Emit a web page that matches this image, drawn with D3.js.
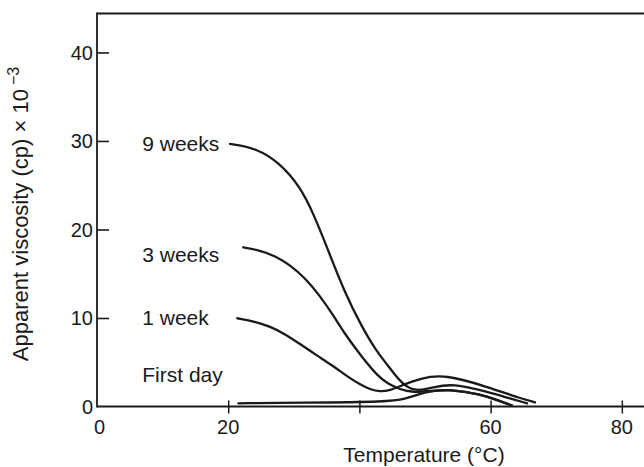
<!DOCTYPE html>
<html>
<head>
<meta charset="utf-8">
<script src="https://cdn.jsdelivr.net/npm/d3@7"></script>
<style>
  html, body { margin: 0; padding: 0; background: #fff; }
  svg { display: block; }
  text { font-family: "Liberation Sans", Arial, Helvetica, sans-serif; fill: #1a1a1a; }
</style>
</head>
<body>
<svg id="chart" width="644" height="467"></svg>
<script>
// ---- Data ----
const xTickValues = [20, 40, 60, 80];
const xTickLabels = ["20", "", "60", "80"];
const yTickValues = [10, 20, 30, 40];
const yTickLabels = ["10", "20", "30", "40"];

const seriesNames = ["9 weeks", "3 weeks", "1 week", "First day"];

const nineWeeksT = [20.27, 24.34, 27.90, 30.95, 32.97, 35.02, 37.80, 40.40, 42.38, 44.16, 45.43, 46.49, 47.71, 49.24, 51.07, 54.27, 59.45, 62.96, 65.55];
const nineWeeksV = [29.66, 29.18, 27.48, 24.84, 21.83, 18.06, 12.77, 8.98, 6.50, 4.80, 3.56, 2.66, 1.98, 1.81, 2.15, 2.62, 1.67, 0.90, 0.36];

const threeWeeksT = [22.30, 24.85, 27.13, 29.42, 31.71, 34.00, 35.98, 37.80, 39.59, 41.11, 42.68, 44.21, 46.19, 48.17, 50.76, 53.81, 58.38, 61.43, 63.26];
const threeWeeksV = [17.99, 17.63, 17.01, 15.99, 14.52, 12.49, 10.34, 8.19, 6.38, 4.92, 3.56, 2.60, 1.92, 1.58, 1.75, 1.94, 1.41, 0.62, 0.11];

const oneWeekT = [21.39, 24.09, 26.37, 28.66, 30.95, 33.54, 35.98, 38.26, 40.09, 41.62, 43.14, 44.66, 46.45, 49.24, 53.05, 59.45, 64.48, 66.77];
const oneWeekV = [9.97, 9.60, 9.04, 8.19, 7.06, 5.76, 4.58, 3.33, 2.49, 1.92, 1.67, 1.81, 2.37, 3.19, 3.64, 2.24, 0.93, 0.47];

const firstDayT = [21.54, 30.95, 44.66, 46.95, 48.93, 50.76, 53.81, 58.38, 61.43, 63.26];
const firstDayV = [0.36, 0.42, 0.53, 0.85, 1.36, 1.75, 1.94, 1.41, 0.62, 0.11];

// label anchor positions (data units)
const labelT = [6.9, 6.9, 6.9, 6.9];
const labelV = [29.66, 17.12, 10.0, 3.56];

// ---- Drawing ----
const svg = d3.select("#chart");
const ink = "#1a1a1a";

const x = d3.scaleLinear().domain([0, 83.38]).range([97, 644]);
const y = d3.scaleLinear().domain([0, 44.4]).range([406.5, 13.5]);

// frame: top line
svg.append("line")
  .attr("x1", x(0)).attr("x2", x(83.38))
  .attr("y1", y(44.4)).attr("y2", y(44.4))
  .attr("stroke", ink).attr("stroke-width", 2.2);

// y axis (ticks pointing inward)
const yAxis = d3.axisRight(y).tickValues(yTickValues).tickSize(12).tickFormat("");
const gy = svg.append("g").attr("transform", `translate(${x(0)},0)`).call(yAxis);
gy.select(".domain").remove();
gy.selectAll(".tick line").attr("stroke", ink).attr("stroke-width", 1.6);
svg.append("line")
  .attr("x1", x(0)).attr("x2", x(0))
  .attr("y1", y(44.4) - 1).attr("y2", y(0) + 1)
  .attr("stroke", ink).attr("stroke-width", 1.8);

// y tick labels
const yLab = svg.append("g");
yLab.selectAll("text").data(yTickValues.concat([0])).join("text")
  .attr("x", 93).attr("y", d => y(d)).attr("dy", "0.36em")
  .attr("text-anchor", "end").attr("font-size", 20)
  .text((d, i) => i < yTickLabels.length ? yTickLabels[i] : "0");

// x axis (ticks crossing the axis)
svg.append("line")
  .attr("x1", x(0)).attr("x2", x(83.38))
  .attr("y1", y(0)).attr("y2", y(0))
  .attr("stroke", ink).attr("stroke-width", 1.8);
const xAxis = d3.axisBottom(x).tickValues(xTickValues).tickSize(13).tickFormat("");
const gx = svg.append("g").attr("transform", `translate(0,${y(0) - 6})`).call(xAxis);
gx.select(".domain").remove();
gx.selectAll(".tick line").attr("stroke", ink).attr("stroke-width", 1.5);

const xLab = svg.append("g");
xLab.selectAll("text").data([0].concat(xTickValues)).join("text")
  .attr("x", d => x(d) + (d === 0 ? 2.5 : 0)).attr("y", 434)
  .attr("text-anchor", "middle").attr("font-size", 20)
  .text((d, i) => i === 0 ? "0" : xTickLabels[i - 1]);

// axis titles
svg.append("text")
  .attr("x", 424).attr("y", 462)
  .attr("text-anchor", "middle").attr("font-size", 21)
  .text("Temperature (°C)");

const yt = svg.append("text")
  .attr("transform", `translate(28,214) rotate(-90)`)
  .attr("text-anchor", "middle").attr("font-size", 22);
yt.append("tspan").text("Apparent viscosity (cp) × 10");
yt.append("tspan").attr("dx", 4).attr("dy", -9).attr("font-size", 16).text("−3");

// curves
const line = d3.line().x(d => x(d[0])).y(d => y(d[1])).curve(d3.curveBasis);
const series = [
  [nineWeeksT, nineWeeksV],
  [threeWeeksT, threeWeeksV],
  [oneWeekT, oneWeekV],
  [firstDayT, firstDayV]
];
svg.append("g").selectAll("path").data(series).join("path")
  .attr("d", s => line(d3.zip(s[0], s[1])))
  .attr("fill", "none").attr("stroke", ink)
  .attr("stroke-width", 2.3).attr("stroke-linecap", "round");

// series labels
svg.append("g").selectAll("text").data(seriesNames).join("text")
  .attr("x", (d, i) => x(labelT[i])).attr("y", (d, i) => y(labelV[i]))
  .attr("dy", "0.35em").attr("font-size", 21)
  .text(d => d);
</script>
</body>
</html>
